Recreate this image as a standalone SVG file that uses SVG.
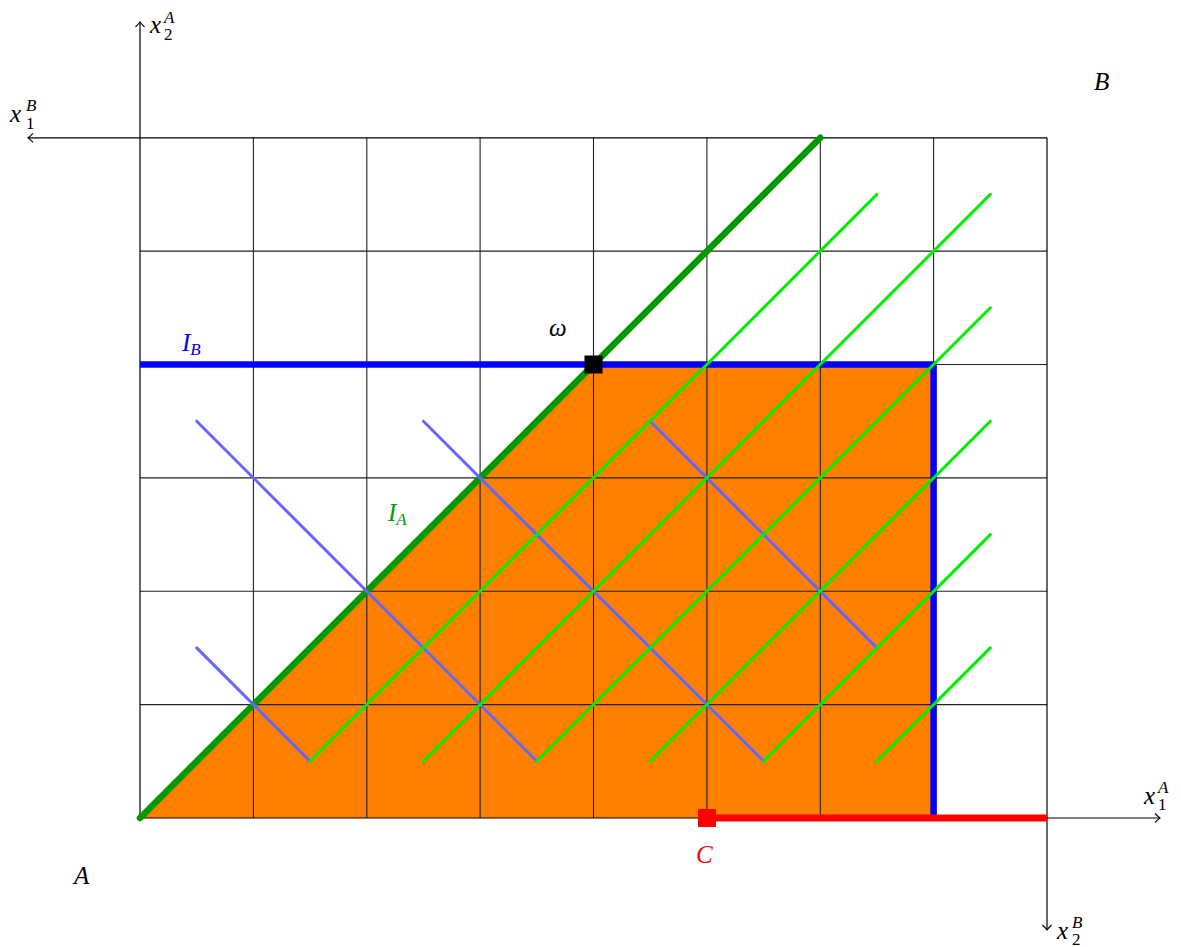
<svg xmlns="http://www.w3.org/2000/svg" width="1181" height="947" viewBox="0 0 1181 947">
<style>
.grid{stroke:#222;stroke-width:1.1;fill:none}
.axis{stroke:#000;stroke-width:1.2;fill:none}
.lg{stroke:#00ee00;stroke-width:3;stroke-linecap:round;fill:none}
.lb{stroke:#6666ff;stroke-width:3;stroke-linecap:round;fill:none}
.t{font-family:"Liberation Serif",serif;font-style:italic;font-size:25px}
.s{font-family:"Liberation Serif",serif;font-size:17px}
.si{font-family:"Liberation Serif",serif;font-style:italic;font-size:17px}
</style>
<defs>
<marker id="arr" viewBox="-6 -6 8 12" markerWidth="8" markerHeight="12" refX="0" refY="0" orient="auto" markerUnits="userSpaceOnUse">
<path d="M-5,-4.5 Q-1.5,-1 0,0 Q-1.5,1 -5,4.5" fill="none" stroke="#000" stroke-width="1.1"/>
</marker>
</defs>
<rect width="1181" height="947" fill="#fff"/>
<g id="region">
<polygon points="140,818 593.5,364.5 933.6,364.5 933.6,818" fill="#ff8000"/>
</g>
<g id="grid" class="grid">
<path d="M253.4,137.8V818M366.8,137.8V818M480.1,137.8V818M593.5,137.8V818M706.9,137.8V818M820.3,137.8V818M933.6,137.8V818"/>
<path d="M140,251.1H1047M140,364.5H1047M140,477.9H1047M140,591.3H1047M140,704.6H1047"/>
</g>
<g id="axes" class="axis">
<path d="M140,818H1160" marker-end="url(#arr)"/>
<path d="M140,818V22" marker-end="url(#arr)"/>
<path d="M1047,137.8H28" marker-end="url(#arr)"/>
<path d="M1047,137.8V930" marker-end="url(#arr)"/>
</g>
<g id="connectors">
<polyline points="140,364.5 933.6,364.5 933.6,818" fill="none" stroke="#0000ff" stroke-width="6.5"/>
<line x1="140" y1="818" x2="820.3" y2="137.8" stroke="#009900" stroke-width="6.5" stroke-linecap="round"/>
<g class="lb">
<line x1="196.7" y1="421.2" x2="536.8" y2="761.3"/>
<line x1="196.7" y1="647.9" x2="310.1" y2="761.3"/>
<line x1="423.4" y1="421.2" x2="763.6" y2="761.3"/>
<line x1="650.2" y1="421.2" x2="876.9" y2="647.9"/>
</g>
<g class="lg">
<line x1="310.1" y1="761.3" x2="876.9" y2="194.4"/>
<line x1="423.4" y1="761.3" x2="990.3" y2="194.4"/>
<line x1="536.8" y1="761.3" x2="990.3" y2="307.8"/>
<line x1="650.2" y1="761.3" x2="990.3" y2="421.2"/>
<line x1="763.6" y1="761.3" x2="990.3" y2="534.6"/>
<line x1="876.9" y1="761.3" x2="990.3" y2="647.9"/>
</g>
<line x1="706.9" y1="818" x2="1047" y2="818" stroke="#ff0000" stroke-width="7"/>
</g>
<g id="omega">
<rect x="584.5" y="355.5" width="18" height="18" fill="#000"/>
<text class="t" x="549" y="336">ω</text>
</g>
<g id="C">
<rect x="698" y="809" width="18" height="18" fill="#ff0000"/>
<text class="t" x="696" y="863" fill="#ff0000">C</text>
</g>
<g id="labels">
<text class="t" x="182" y="351" fill="#0000ff">I<tspan class="si" dy="4">B</tspan></text>
<text class="t" x="388" y="521" fill="#009900">I<tspan class="si" dy="4">A</tspan></text>
<text class="t" x="74" y="884">A</text>
<text class="t" x="1094" y="90">B</text>
<text class="t" x="150" y="33">x</text><text class="si" x="164" y="23">A</text><text class="s" x="164" y="40">2</text>
<text class="t" x="10" y="122">x</text><text class="si" x="26" y="111">B</text><text class="s" x="26" y="129">1</text>
<text class="t" x="1144" y="804">x</text><text class="si" x="1158" y="793">A</text><text class="s" x="1158" y="810">1</text>
<text class="t" x="1057" y="939">x</text><text class="si" x="1072" y="928">B</text><text class="s" x="1072" y="945">2</text>
</g>
</svg>
